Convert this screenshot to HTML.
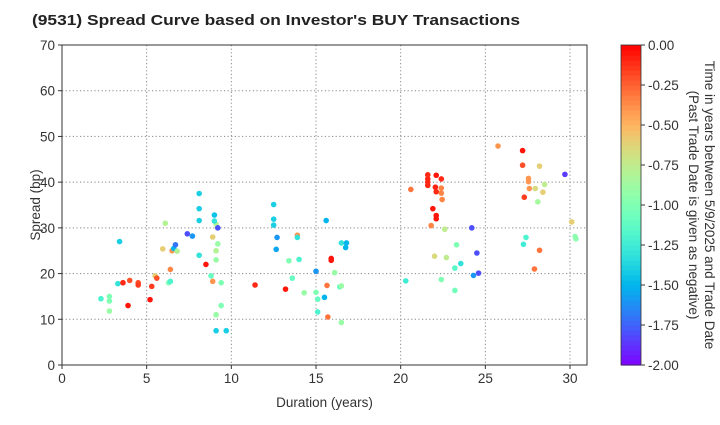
<!DOCTYPE html>
<html><head><meta charset="utf-8"><style>
body{margin:0;background:#fff;font-family:"Liberation Sans","DejaVu Sans",sans-serif}
svg text{font-family:"Liberation Sans","DejaVu Sans",sans-serif}
</style></head><body>
<svg id="chart" width="720" height="420" xmlns="http://www.w3.org/2000/svg">
<text x="32" y="25" font-size="15" font-weight="bold" fill="#222" textLength="488" lengthAdjust="spacingAndGlyphs">(9531)   Spread Curve based on Investor's BUY Transactions</text>
<g id="grid"></g><g id="axes"></g><g id="pts"></g><g id="cbar"></g>
</svg>
<script>
const xs=[2.3,2.8,2.8,2.8,3.3,3.4,3.6,3.9,4.0,4.5,4.5,5.2,5.3,5.5,5.6,5.95,6.1,6.4,6.3,6.4,6.5,6.6,6.7,6.8,7.4,7.7,8.1,8.1,8.1,8.1,8.5,8.8,8.9,8.9,9.0,9.1,9.0,9.2,9.2,9.1,9.1,9.1,9.1,9.4,9.4,9.7,11.4,
12.5,12.5,12.5,15.6,12.7,13.9,13.9,12.65,13.4,14.0,15.9,15.9,16.5,16.8,16.75,15.0,16.1,13.6,13.2,14.3,15.0,15.1,15.5,15.65,16.4,16.5,15.1,15.7,16.5,
25.75,27.2,27.2,28.2,29.7,27.55,27.55,28.5,27.6,27.95,28.4,27.3,28.1,30.1,30.3,30.35,27.4,27.25,28.2,27.9,
20.6,21.6,21.6,21.6,21.6,22.1,22.4,22.05,22.1,22.4,22.4,22.45,21.9,22.1,22.1,21.8,22.6,24.2,23.3,22.0,22.7,24.5,23.55,23.2,24.6,24.3,20.3,22.4,23.2];
const ys=[14.5,15,14,11.8,17.8,27,18,13,18.5,18,17.5,14.3,17.2,19.5,19,25.4,31,20.9,18,18.3,25,25.5,26.3,24.9,28.7,28.2,37.5,34.2,31.6,24,22,19.5,28,18.3,32.8,30.8,31.5,30,26.5,25,23,11,7.5,18,13,7.5,17.5,
35.1,31.9,30.6,31.6,27.9,28.4,27.9,25.3,22.8,23.1,23.3,22.9,26.7,26.7,25.7,20.5,20.2,19.0,16.6,15.8,15.9,14.4,14.8,17.4,17.1,17.3,11.6,10.5,9.3,
47.9,46.9,43.7,43.5,41.7,40.8,40.1,39.5,38.6,38.6,37.8,36.7,35.7,31.3,28.1,27.6,27.9,26.4,25.1,21.0,
38.4,41.6,40.7,40.0,39.3,41.5,40.7,38.9,37.9,38.7,37.6,36.2,34.2,32.7,32.0,30.5,29.7,30.0,26.3,23.8,23.5,24.5,22.2,21.2,20.1,19.6,18.4,18.7,16.3];
const ts=[-1.2,-1.0,-1.0,-0.9,-1.3,-1.4,-0.1,-0.05,-0.2,-0.2,-0.15,-0.05,-0.15,-0.6,-0.2,-0.6,-0.8,-0.35,-1.0,-1.2,-0.4,-1.5,-1.7,-0.8,-1.8,-1.6,-1.4,-1.4,-1.4,-1.3,-0.05,-1.1,-0.6,-0.4,-1.45,-0.8,-1.3,-1.8,-0.9,-0.8,-0.9,-0.9,-1.4,-1.0,-1.0,-1.4,-0.1,
-1.4,-1.4,-1.4,-1.5,-1.6,-0.4,-1.3,-1.55,-1.0,-1.2,-0.05,-0.05,-1.3,-1.5,-1.5,-1.6,-0.9,-1.1,-0.05,-0.9,-1.0,-1.1,-1.5,-0.3,-1.1,-0.9,-1.2,-0.3,-0.9,
-0.4,-0.05,-0.2,-0.6,-1.85,-0.4,-0.4,-0.75,-0.4,-0.65,-0.6,-0.15,-0.85,-0.6,-0.95,-0.95,-1.2,-1.25,-0.3,-0.3,
-0.3,-0.1,-0.1,-0.1,-0.1,-0.05,-0.1,-0.08,-0.1,-0.35,-0.35,-0.35,-0.05,-0.05,-0.05,-0.35,-0.75,-1.8,-1.0,-0.65,-0.75,-1.8,-1.3,-1.15,-1.8,-1.6,-1.25,-1.0,-1.05];
const xTicks=[0,5,10,15,20,25,30];
const yTicks=[0,10,20,30,40,50,60,70];
const cTicks=["0.00","-0.25","-0.50","-0.75","-1.00","-1.25","-1.50","-1.75","-2.00"];
const NS="http://www.w3.org/2000/svg";
const L=62,R=587,T=45,B=365,FS=13.5;
const sx=v=>L+v*(570-62)/30, sy=v=>B-v*(B-T)/70;
function col(t){const x=(t+2)/2;const c=v=>Math.round(255*Math.max(0,Math.min(1,v)));
return `rgb(${c(Math.abs(2*x-0.5))},${c(Math.sin(Math.PI*x))},${c(Math.cos(Math.PI*x/2))})`;}
function mk(p,tag,a){const e=document.createElementNS(NS,tag);for(const k in a)e.setAttribute(k,a[k]);p.appendChild(e);return e;}
const g=document.getElementById('grid'),ax=document.getElementById('axes'),pg=document.getElementById('pts'),cb=document.getElementById('cbar');
xTicks.forEach(v=>{const l=mk(g,'line',{x1:sx(v),x2:sx(v),y1:T,y2:B,stroke:'#888','stroke-dasharray':'1.2,2.4','stroke-width':1});


mk(ax,'line',{x1:sx(v),x2:sx(v),y1:B,y2:B+4,stroke:'#333'});
const t=mk(ax,'text',{x:sx(v),y:B+18,'text-anchor':'middle','font-size':FS,fill:'#333'});t.textContent=v;

});
yTicks.forEach(v=>{const l=mk(g,'line',{x1:L,x2:R,y1:sy(v),y2:sy(v),stroke:'#888','stroke-dasharray':'1.2,2.4','stroke-width':1});


mk(ax,'line',{x1:L-4,x2:L,y1:sy(v),y2:sy(v),stroke:'#333'});
const t=mk(ax,'text',{x:L-7,y:sy(v)+5,'text-anchor':'end','font-size':FS,fill:'#333'});t.textContent=v;

});
const fr=mk(ax,'rect',{x:L,y:T,width:R-L,height:B-T,fill:'none',stroke:'#333','stroke-width':1});


const xl=mk(ax,'text',{x:(L+R)/2,y:B+42,'text-anchor':'middle','font-size':FS,fill:'#333'});xl.textContent='Duration (years)';


const yl=mk(ax,'text',{x:0,y:0,transform:`translate(40,${(T+B)/2}) rotate(-90)`,'text-anchor':'middle','font-size':FS,fill:'#333'});yl.textContent='Spread (bp)';


xs.forEach((x,i)=>{const c=mk(pg,'circle',{cx:sx(x),cy:sy(ys[i]),r:2.8,fill:col(ts[i])});

});
const CX=621,CW=20,steps=64;
for(let i=0;i<steps;i++){const t=-2+2*(i+0.5)/steps;const h=(B-T)/steps;
const r=mk(cb,'rect',{x:CX,y:B-(i+1)*h,width:CW,height:h+0.6,fill:col(t)});

}
const cf=mk(cb,'rect',{x:CX,y:T,width:CW,height:B-T,fill:'none',stroke:'#333','stroke-width':0.8});


cTicks.forEach((s,i)=>{const y=T+i*(B-T)/8;mk(cb,'line',{x1:CX+CW,x2:CX+CW+4,y1:y,y2:y,stroke:'#333'});
const t=mk(cb,'text',{x:CX+CW+7,y:y+5,'font-size':FS,fill:'#333'});t.textContent=s;

});
[['Time in years between 5/9/2025 and Trade Date',705],['(Past Trade Date is given as negative)',689]].forEach(([s,x])=>{
const t=mk(cb,'text',{x:0,y:0,transform:`translate(${x},${(T+B)/2}) rotate(90)`,'text-anchor':'middle','font-size':FS,fill:'#333'});t.textContent=s;

});
</script>
</body></html>
